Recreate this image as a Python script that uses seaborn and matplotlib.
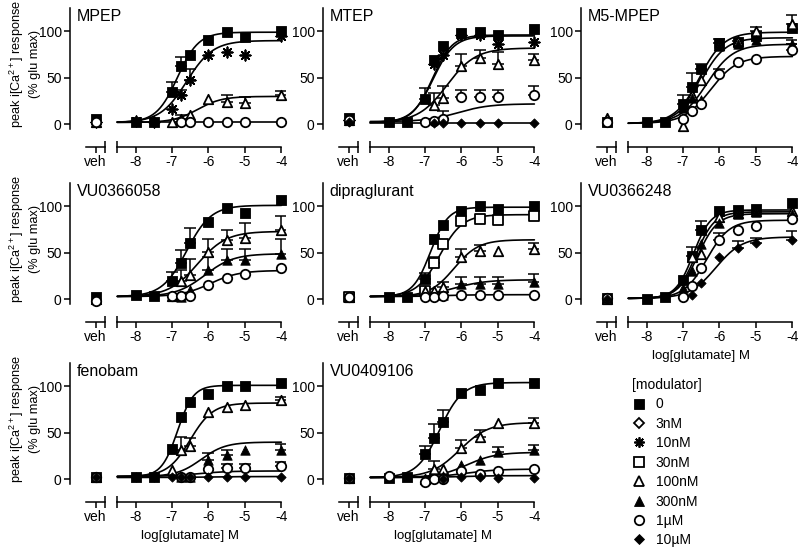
import numpy as np
import pandas as pd
import matplotlib
matplotlib.use('AGG')
import matplotlib.pyplot as plt
from matplotlib.lines import Line2D
import seaborn as sns

nan = np.nan

# ==============================================================================
#                                                                           DATA
# ==============================================================================
# glutamate concentrations (log M), shared by every panel
log_glu = [-8, -7.5, -7, -6.75, -6.5, -6, -5.5, -5, -4]
veh_x = -9.1

legend_mods = ['0', '3nM', '10nM', '30nM', '100nM', '300nM', '1µM', '10µM']

# fit parameters per curve are (bottom, top, logEC50, hill slope)
mpep_mods = ['0', '10nM', '100nM', '1µM']
mpep_veh = [6, 3, 3, 3]
mpep_y = [[2, 2, 35, 63, 75, 91, 99, 94, 100],
          [4, 2, 16, 32, 48, 74, 78, 75, 95],
          [nan, nan, 2, 6, 10, 27, 24, 23, 31],
          [nan, nan, nan, 3, 3, 3, 3, 3, 3]]
mpep_err = [[nan, nan, 11, 9, nan, nan, nan, nan, nan],
            [nan, nan, nan, 5, 12, nan, nan, nan, nan],
            [nan, nan, nan, 4, nan, nan, 7, 6, 5],
            [nan] * 9]
mpep_fit = [(2, 99, -6.85, 1.5), (2, 90, -6.6, 1.2), (2, 30, -6.3, 1.3), (3, 3, -6, 1)]

mtep_mods = ['0', '10nM', '100nM', '1µM', '10µM']
mtep_veh = [7, 5, 5, 5, 3]
mtep_y = [[2, 2, 27, 69, 84, 98, 99, 96, 102],
          [nan, nan, nan, 65, 74, 96, 96, 86, 88],
          [nan, nan, nan, 21, 28, 63, 71, 65, 69],
          [nan, nan, 3, 4, 6, 29, 29, 29, 31],
          [2, 2, nan, 1, 1, 1, 1, 1, 1]]
mtep_err = [[nan, nan, 12, nan, nan, nan, nan, nan, nan],
            [nan] * 9,
            [nan, nan, nan, 13, 13, 13, 9, 13, 7],
            [nan, nan, nan, nan, 8, 8, 8, 8, 10],
            [nan] * 9]
mtep_fit = [(2, 96, -6.8, 1.6), (2, 95, -6.78, 1.5), (2, 82, -6.4, 1.1),
            (3, 22, -6.1, 1.0), (1, 1, -6, 1)]

m5mpep_mods = ['0', '100nM', '300nM', '1µM']
m5mpep_veh = [3, 7, 4, 2]
m5mpep_y = [[2, 3, 22, 40, 60, 87, 88, 95, 104],
            [nan, nan, -2, 32, 48, 85, 90, 100, 108],
            [nan, nan, 18, 28, 26, 84, 86, 91, 86],
            [nan, nan, 6, 14, 22, 54, 67, 70, 80]]
m5mpep_err = [[nan, nan, 9, 15, 5, 5, nan, nan, nan],
              [nan, nan, nan, nan, nan, nan, nan, 5, 10],
              [nan, nan, nan, nan, nan, nan, 4, nan, 5],
              [nan, nan, nan, nan, nan, 5, nan, nan, 6]]
m5mpep_fit = [(1, 93, -6.5, 1.3), (1, 99, -6.55, 1.3), (1, 86, -6.35, 1.2), (1, 73, -6.25, 1.2)]

vu058_mods = ['0', '100nM', '300nM', '1µM']
vu058_veh = [2, 0, 0, -2]
vu058_y = [[5, 3.5, 20, 39, 61, 83, 98, 93, 107],
           [nan, nan, 3.5, 20, 26, 51, 64, 66, 74],
           [nan, nan, nan, 2, 10, 31, 42, 42, 49],
           [nan, nan, 3.5, 3.5, 3.5, 15, 23, 27, 34]]
vu058_err = [[nan, nan, 9, 14, 16, nan, nan, nan, nan],
             [nan, nan, nan, 12, 17, 14, 11, 16, 16],
             [nan, nan, nan, nan, nan, 14, 12, 12, 16],
             [nan] * 9]
vu058_fit = [(3, 101, -6.6, 1.3), (3, 73, -6.3, 1.1), (3, 49, -6.1, 1.1), (3, 31, -5.95, 1.1)]

dipra_mods = ['0', '30nM', '100nM', '300nM', '1µM']
dipra_veh = [3, 3, 3, 3, 3]
dipra_y = [[2, 2, 22, 65, 80, 95, 100, 97, 100],
           [nan, nan, 9, 39, 59, 84, 86, 85, 90],
           [nan, nan, 9, 9, 13, 46, 52, 52, 54],
           [nan, nan, nan, nan, 5, 16, 16, 16, 19],
           [nan, nan, 3, 3, 4, 5, 5, 5, 5]]
dipra_err = [[nan, nan, 6, nan, nan, nan, nan, nan, nan],
             [nan, nan, nan, 7, nan, nan, nan, nan, nan],
             [nan, nan, nan, nan, 6, 8, 6, nan, 6],
             [nan, nan, nan, nan, nan, 8, 8, 8, 8],
             [nan] * 9]
dipra_fit = [(3, 99, -6.85, 1.8), (3, 91, -6.6, 1.4), (3, 64, -6.2, 1.3),
             (3, 21, -6.2, 1.0), (3, 5, -6.5, 1.0)]

vu248_mods = ['0', '100nM', '300nM', '1µM', '10µM']
vu248_veh = [1, 0, 1, 1, 0]
vu248_y = [[0, 2, 21, 47, 74, 95, 96, 97, 104],
           [nan, nan, 7, 45, 49, 88, 93, 95, 95],
           [nan, nan, 12, 30, 59, 82, 92, 94, 92],
           [nan, nan, 2, 14, 34, 64, 74, 79, 86],
           [nan, nan, nan, 5, 18, 45, 55, 60, 64]]
vu248_err = [[nan, nan, nan, 9, 10, nan, nan, nan, nan],
             [nan] * 9,
             [nan] * 9,
             [nan, nan, nan, nan, nan, 7, nan, nan, nan],
             [nan, nan, nan, nan, nan, nan, 8, 6, 9]]
vu248_fit = [(1, 96, -6.72, 1.8), (1, 94, -6.65, 1.7), (1, 92, -6.6, 1.6),
             (1, 85, -6.35, 1.4), (1, 67, -6.1, 1.2)]

fenobam_mods = ['0', '100nM', '300nM', '1µM', '10µM']
fenobam_veh = [3, 3, 3, 3, 2]
fenobam_y = [[3, 3, 33, 67, 83, 92, 100, 100, 103],
             [nan, nan, 10, 32, 36, 72, 78, 80, 85],
             [nan, nan, nan, 3, 2, 21, 26, 31, 31],
             [nan, nan, nan, 3, 3, 11, 12, 12, 14],
             [2, 2, 2, 2, 2, 2, 2, 2, 2]]
fenobam_err = [[nan] * 9,
               [nan, nan, nan, 13, 8, nan, nan, nan, 4],
               [nan, nan, nan, nan, nan, 7, 6, nan, 7],
               [nan, nan, nan, nan, nan, nan, 4, 4, 5],
               [nan] * 9]
fenobam_fit = [(3, 101, -6.85, 2.0), (3, 82, -6.5, 1.4), (3, 40, -6.2, 1.3),
               (3, 9, -6.3, 1.0), (2, 3, -6, 1.0)]

vu106_mods = ['0', '100nM', '300nM', '1µM', '10µM']
vu106_veh = [1, 1, 1, 1, 1]
vu106_y = [[1, 3, 27, 44, 62, 93, 96, 103, 104],
           [nan, nan, 0, 11, 11, 34, 45, 60, 60],
           [nan, nan, nan, nan, 4, 15, 21, 29, 31],
           [4, nan, -3, 0, 0, 9, 6, 9, 11],
           [nan, nan, nan, nan, 0, 3, 2, 1, 1]]
vu106_err = [[nan, nan, 9, 15, 13, nan, nan, nan, nan],
             [nan, nan, nan, 9, nan, 8, 8, nan, 6],
             [nan, nan, nan, nan, nan, nan, nan, 6, 6],
             [nan] * 9,
             [nan] * 9]
vu106_fit = [(2, 104, -6.6, 1.4), (2, 61, -6.05, 1.1), (2, 29, -5.85, 1.1),
             (2, 11, -5.9, 1.0), (2, 4, -6, 1.0)]

# ==============================================================================
#                                                                          STYLE
# ==============================================================================
# modulator -> (marker, face colour, size)
marker_style = {
    '0':     ('s', 'black', 42),
    '3nM':   ('D', 'white', 22),
    '10nM':  ((8, 2, 0), 'black', 55),
    '30nM':  ('s', 'white', 42),
    '100nM': ('^', 'white', 46),
    '300nM': ('^', 'black', 46),
    '1µM':   ('o', 'white', 46),
    '10µM':  ('D', 'black', 22),
}

sns.set_theme(style='ticks', rc={
    'axes.edgecolor': 'black', 'xtick.color': 'black', 'ytick.color': 'black',
    'text.color': 'black', 'axes.labelcolor': 'black', 'axes.linewidth': 1.1,
})
plt.rcParams['font.family'] = ['Liberation Sans', 'DejaVu Sans']
plt.rcParams['mathtext.fontset'] = 'custom'
plt.rcParams['mathtext.rm'] = 'Liberation Sans'
plt.rcParams['mathtext.it'] = 'Liberation Sans:italic'
plt.rcParams['axes.unicode_minus'] = False

W, H = 800, 547
col_left = [70, 323, 581]
row_top = [8, 183, 363]
ax_w, ax_h = 215, 121
OFFSET = 13


def hill(x, bottom, top, ec50, slope):
    return bottom + (top - bottom) / (1 + 10 ** ((ec50 - x) * slope))


# ==============================================================================
#                                                                     DRAW_PANEL
# ==============================================================================
def draw_panel(ax, title, mods, veh, ys, errs, fits):
    ax.set_xlim(-9.8, -3.9)
    ax.set_ylim(-5, 125)

    # Fitted curves
    xx = np.linspace(-8.5, -4, 200)
    curves = pd.concat([pd.DataFrame({'x': xx, 'y': hill(xx, *f), 'mod': m})
                        for m, f in zip(mods, fits)])
    sns.lineplot(data=curves, x='x', y='y', units='mod', estimator=None,
                 color='black', lw=1.2, ax=ax, legend=False, zorder=2)

    # Points + one-sided error bars
    for m, v, y, e in zip(mods, veh, ys, errs):
        mk, fc, s = marker_style[m]
        y = np.array(y, float)
        e = np.array(e, float)
        lower = np.where(np.isnan(e), nan, 0.0)
        ax.errorbar(log_glu, y, yerr=[lower, e], fmt='none', ecolor='black',
                    elinewidth=1.1, capsize=4, capthick=1.1, zorder=2.5)
        lw = 1.3 if fc == 'white' or mk == (8, 2, 0) else 0.6
        sns.scatterplot(x=[veh_x] + log_glu, y=[v] + list(y), marker=mk, s=s,
                        color=fc, edgecolor='black', linewidth=lw, ax=ax,
                        zorder=3, clip_on=False, legend=False)

    ax.set_xlabel('')
    ax.set_ylabel('')
    ax.text(0.03, 0.99, title, transform=ax.transAxes, ha='left', va='top',
            fontsize=11.5)

    # Axes decoration
    sns.despine(ax=ax)
    ax.set_yticks([0, 50, 100])
    ax.set_xticks([-8, -7, -6, -5, -4])
    ax.set_xticklabels(['-8', '-7', '-6', '-5', '-4'])
    ax.set_xticks([-8.5], minor=True)
    ax.spines['bottom'].set_position(('outward', OFFSET))
    ax.spines['bottom'].set_bounds(-8.5, -4)
    ax.tick_params(which='major', length=4, width=1.1, labelsize=10, pad=2)
    ax.tick_params(axis='x', which='minor', direction='inout', length=8, width=1.1)

    # Separate "veh" segment of the x axis
    ax2 = ax.twiny()
    ax2.set_xlim(ax.get_xlim())
    ax2.xaxis.set_ticks_position('bottom')
    for s in ['top', 'right', 'left']:
        ax2.spines[s].set_visible(False)
    ax2.spines['bottom'].set_visible(True)
    ax2.spines['bottom'].set_position(('outward', OFFSET))
    ax2.spines['bottom'].set_bounds(-9.35, -8.85)
    ax2.set_xticks([veh_x])
    ax2.set_xticklabels(['veh'])
    ax2.set_xticks([-8.85], minor=True)
    ax2.tick_params(which='major', length=4, width=1.1, labelsize=10, pad=2)
    ax2.tick_params(axis='x', which='minor', direction='inout', length=8, width=1.1)
    return ax


panels = [
    (0, 0, 'MPEP', mpep_mods, mpep_veh, mpep_y, mpep_err, mpep_fit),
    (0, 1, 'MTEP', mtep_mods, mtep_veh, mtep_y, mtep_err, mtep_fit),
    (0, 2, 'M5-MPEP', m5mpep_mods, m5mpep_veh, m5mpep_y, m5mpep_err, m5mpep_fit),
    (1, 0, 'VU0366058', vu058_mods, vu058_veh, vu058_y, vu058_err, vu058_fit),
    (1, 1, 'dipraglurant', dipra_mods, dipra_veh, dipra_y, dipra_err, dipra_fit),
    (1, 2, 'VU0366248', vu248_mods, vu248_veh, vu248_y, vu248_err, vu248_fit),
    (2, 0, 'fenobam', fenobam_mods, fenobam_veh, fenobam_y, fenobam_err, fenobam_fit),
    (2, 1, 'VU0409106', vu106_mods, vu106_veh, vu106_y, vu106_err, vu106_fit),
]

fig = plt.figure(figsize=(W / 100, H / 100), dpi=100)

for r, c, title, mods, veh, ys, errs, fits in panels:
    rect = [col_left[c] / W, 1 - (row_top[r] + ax_h) / H, ax_w / W, ax_h / H]
    ax = fig.add_axes(rect)
    draw_panel(ax, title, mods, veh, ys, errs, fits)
    if c == 0:
        ax.text(-(col_left[0] - 24) / ax_w, 0.54,
                'peak i[Ca$^{2+}$] response\n(% glu max)', transform=ax.transAxes,
                rotation=90, ha='center', va='center', fontsize=9.2,
                linespacing=1.35, multialignment='center')
    if (r, c) in [(1, 2), (2, 0), (2, 1)]:
        ax.set_xlabel('log[glutamate] M', fontsize=9.5, labelpad=4)
        ax.xaxis.label.set_x(0.56)

# Legend
handles = []
for m in legend_mods:
    mk, fc, s = marker_style[m]
    handles.append(Line2D([], [], linestyle='none', marker=mk, markersize=np.sqrt(s),
                          markerfacecolor=fc, markeredgecolor='black',
                          markeredgewidth=1.3 if fc == 'white' or mk == (8, 2, 0) else 0.6))
fig.legend(handles, legend_mods, title='[modulator]', loc='upper left',
           bbox_to_anchor=(632 / W, 1 - 378 / H), frameon=False, fontsize=10,
           title_fontsize=10, handlelength=1.0, handletextpad=0.7,
           labelspacing=0.39, borderpad=0, borderaxespad=0, alignment='left')

fig.savefig('out.png', dpi=100)
